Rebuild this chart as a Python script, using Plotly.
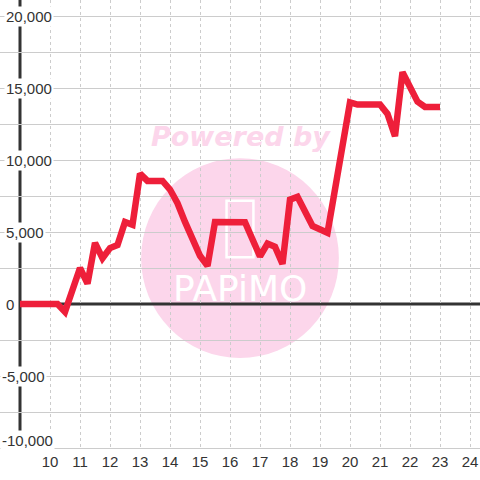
import plotly.graph_objects as go

# ---- data ----
hours = [9.0, 10.25, 10.5, 11.0, 11.25, 11.5, 11.75, 12.0, 12.25, 12.5, 12.75,
         13.0, 13.25, 13.75, 14.0, 14.25, 14.5, 14.75, 15.0, 15.25, 15.5,
         16.5, 17.0, 17.25, 17.5, 17.75, 18.0, 18.25, 18.75, 19.25, 20.0,
         20.25, 21.0, 21.25, 21.5, 21.75, 22.25, 22.5, 23.0]
diff = [0, 0, -550, 2500, 1420, 4250, 3180, 3880, 4100, 5700, 5500,
        9050, 8550, 8550, 7950, 7000, 5700, 4550, 3350, 2650, 5700,
        5680, 3300, 4200, 3980, 2780, 7250, 7450, 5420, 4950, 14000,
        13850, 13850, 13200, 11650, 16100, 14050, 13680, 13680]

x_ticks = [10, 11, 12, 13, 14, 15, 16, 17, 18, 19, 20, 21, 22, 23, 24]
x_tick_text = [str(v) for v in x_ticks]
y_grid = [-10000, -7500, -5000, -2500, 2500, 5000, 7500, 10000,
          12500, 15000, 17500, 20000]
y_label_vals = [20000, 15000, 10000, 5000, 0, -5000, -10000]
y_label_text = ["20,000", "15,000", "10,000", "5,000", "0", "-5,000", "-10,000"]

X_RANGE = [8.3333, 24.3333]
Y_RANGE = [-10000, 21111]
AXIS_X = 9.0

FONT = "Liberation Sans, Arial, sans-serif"
DARK = "#333333"
GRID = "#cccccc"

fig = go.Figure()
fig.add_trace(go.Scatter(
    x=hours, y=diff, mode="lines",
    line=dict(color="#ee1f3a", width=6.5),
    hoverinfo="skip",
))

ax_paper = (AXIS_X - X_RANGE[0]) / (X_RANGE[1] - X_RANGE[0])

shapes = [
    # watermark circle
    dict(type="circle", xref="paper", yref="paper",
         x0=0.294, x1=0.706, y0=0.2009, y1=0.647,
         fillcolor="#fcd6eb", line=dict(width=0), layer="below"),
    # phone icon of watermark
    dict(type="rect", xref="paper", yref="paper",
         x0=0.472, x1=0.528, y0=0.426, y1=0.552,
         fillcolor="rgba(0,0,0,0)", line=dict(color="white", width=2.5),
         layer="below"),
    # y axis line
    dict(type="line", xref="x", yref="paper", x0=AXIS_X, x1=AXIS_X,
         y0=0, y1=1, line=dict(color=DARK, width=3), layer="between"),
    # zero line
    dict(type="line", xref="paper", yref="y", x0=ax_paper, x1=1,
         y0=0, y1=0, line=dict(color=DARK, width=3), layer="between"),
]

annotations = []
y_min_label = min(y_label_vals)
for v, t in zip(y_label_vals, y_label_text):
    is_bottom = (v == y_min_label)
    annotations.append(dict(
        x=0, xref="paper", xanchor="left", xshift=(0 if t.startswith("-") else 4),
        y=v, yref="y", yanchor=("bottom" if is_bottom else "middle"),
        yshift=(-3 if is_bottom else 0),
        text=t, showarrow=False,
        font=dict(family=FONT, size=15, color=DARK),
        bgcolor="white", borderpad=1,
    ))

annotations.append(dict(
    x=0.503, y=0.696, xref="paper", yref="paper", text="Powered by",
    showarrow=False, xanchor="center", yanchor="middle",
    font=dict(family="DejaVu Sans", size=27, color="#fcd6eb",
              weight="bold", style="italic"),
))
annotations.append(dict(
    x=0.5, y=0.355, xref="paper", yref="paper", text="PAPiMO",
    showarrow=False, xanchor="center", yanchor="middle",
    font=dict(family="DejaVu Sans", size=36, color="white"),
))

fig.update_layout(
    width=480, height=480,
    margin=dict(l=0, r=0, t=0, b=32, autoexpand=False),
    paper_bgcolor="white", plot_bgcolor="white",
    showlegend=False,
    shapes=shapes,
    annotations=annotations,
    xaxis=dict(
        range=X_RANGE, tickmode="array", tickvals=x_ticks, ticktext=x_tick_text,
        showgrid=True, gridcolor=GRID, gridwidth=1, griddash="dot",
        zeroline=False, showline=True, linecolor=GRID, linewidth=1,
        ticks="",
        tickfont=dict(family=FONT, size=15, color=DARK),
        fixedrange=True, automargin=False,
    ),
    yaxis=dict(
        range=Y_RANGE, tickmode="array", tickvals=y_grid,
        showticklabels=False, showgrid=True, gridcolor=GRID, gridwidth=1,
        zeroline=False, showline=False, ticks="", fixedrange=True,
        automargin=False,
    ),
)

fig.write_html("out.html", config={"displayModeBar": False},
               post_script="document.body.style.margin='0';document.body.style.padding='0';")
